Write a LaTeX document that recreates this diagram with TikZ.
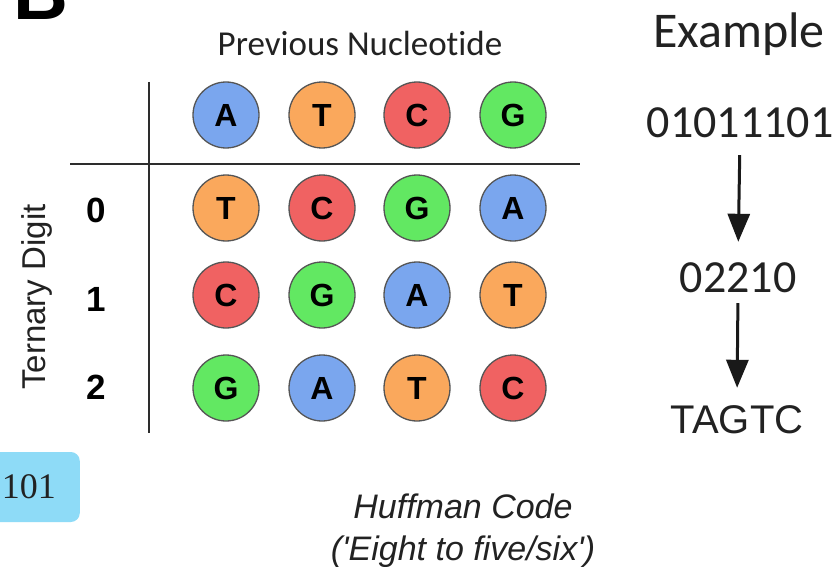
\documentclass[tikz,border=0pt]{standalone}
\usepackage{fontspec}
\setmainfont{Liberation Sans}
\newfontfamily\calfont[Ligatures={TeX,NoCommon}]{Carlito}
\newfontfamily\serfont{Liberation Serif}
\usetikzlibrary{arrows.meta}

\definecolor{nucA}{RGB}{122,166,238}
\definecolor{nucT}{RGB}{250,168,92}
\definecolor{nucC}{RGB}{240,98,98}
\definecolor{nucG}{RGB}{98,232,98}
\definecolor{ringgray}{RGB}{85,85,85}
\definecolor{inkgray}{RGB}{34,34,34}
\definecolor{rulegray}{RGB}{45,45,45}
\definecolor{boxblue}{RGB}{142,219,247}

\begin{document}
\begin{tikzpicture}[x=1pt,y=-1pt,
  nuc/.style={circle, draw=ringgray, line width=1.3pt, minimum size=66pt,
    inner sep=0pt, text=black, font=\bfseries\fontsize{32}{32}\selectfont},
  nA/.style={nuc, fill=nucA},
  nT/.style={nuc, fill=nucT},
  nC/.style={nuc, fill=nucC},
  nG/.style={nuc, fill=nucG},
  rowlabel/.style={text=black, font=\bfseries\fontsize{35}{35}\selectfont},
  rulestyle/.style={draw=rulegray, line width=2.6pt},
  exstep/.style={inner sep=0pt, text height=32pt, text depth=0pt, anchor=base, text=inkgray},
  arr/.style={draw=black!90, line width=3pt, -{Triangle[length=28pt,width=22pt]}}
]
\useasboundingbox (0,0) rectangle (840,567);
\fill[white] (0,0) rectangle (840,567);

% panel letter
\node[anchor=base west, inner sep=0pt, font=\bfseries\fontsize{76}{76}\selectfont] (panel) at (13,20) {B};

% table rules
\draw[rulestyle] (70,164) -- (580,164);
\draw[rulestyle] (149,82) -- (149,433);

% column header
\node[anchor=base, inner sep=0pt, text=inkgray, font=\calfont\fontsize{35}{35}\selectfont] (prev) at (360,56) {Previous Nucleotide};
\node[nA] (hA) at (226,115) {A};
\node[nT] (hT) at (322,115) {T};
\node[nC] (hC) at (417,115) {C};
\node[nG] (hG) at (513,115) {G};

% row header
\node[rotate=90, inner sep=0pt, text=inkgray, font=\fontsize{33}{33}\selectfont] (tern) at (37,297) {Ternary Digit};
\node[rowlabel] (r0) at (96,210) {0};
\node[rowlabel] (r1) at (96,299) {1};
\node[rowlabel] (r2) at (96,387) {2};

% digit 0
\node[nT] (g0T) at (226,208) {T};
\node[nC] (g0C) at (322,208) {C};
\node[nG] (g0G) at (417,208) {G};
\node[nA] (g0A) at (513,208) {A};
% digit 1
\node[nC] (g1C) at (226,295) {C};
\node[nG] (g1G) at (322,295) {G};
\node[nA] (g1A) at (417,295) {A};
\node[nT] (g1T) at (513,295) {T};
% digit 2
\node[nG] (g2G) at (226,388) {G};
\node[nA] (g2A) at (322,388) {A};
\node[nT] (g2T) at (417,388) {T};
\node[nC] (g2C) at (513,388) {C};

% worked example
\node[anchor=base, inner sep=0pt, text=inkgray, font=\calfont\fontsize{50}{50}\selectfont] (extitle) at (739,48) {Example};
\node[exstep, font=\calfont\fontsize{46}{46}\selectfont] (ex1) at (740,138) {01011101};
\node[exstep, font=\calfont\fontsize{46}{46}\selectfont] (ex2) at (738,292) {02210};
\node[exstep, font=\fontsize{40}{40}\selectfont] (ex3) at (737,433) {TAGTC};
\draw[arr, shorten <=17pt, shorten >=18pt] (ex1.south) -- (ex2.north);
\draw[arr, shorten <=11pt, shorten >=13pt] (ex2.south) -- (ex3.north);

% bit string box
\node[anchor=east, fill=boxblue, rounded corners=9pt, minimum height=70pt,
  inner xsep=24pt, text=inkgray, font=\serfont\fontsize{36}{36}\selectfont] (bits) at (80,487) {101};

% caption
\node[align=center, inner sep=0pt, text=inkgray, font=\itshape\fontsize{34}{42}\selectfont] (huff) at (463,531)
  {Huffman Code\\(\textquotesingle Eight to five/six\textquotesingle)};
\end{tikzpicture}
\end{document}
